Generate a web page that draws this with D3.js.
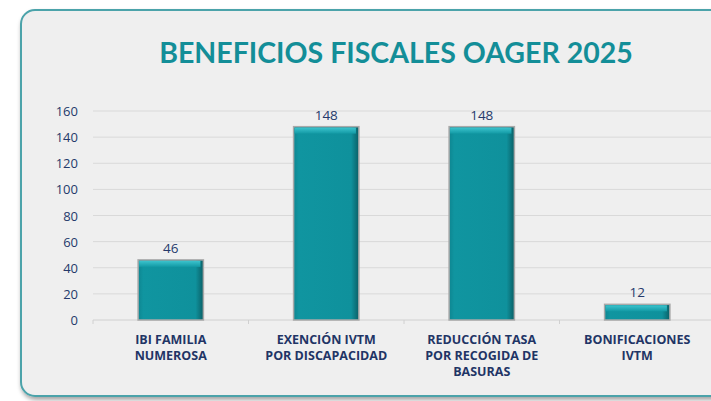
<!DOCTYPE html>
<html>
<head>
<meta charset="utf-8">
<script src="https://cdn.jsdelivr.net/npm/d3@7"></script>
<style>
  body { margin: 0; background: #fff; }
  svg { display: block; }
</style>
</head>
<body>
<svg id="chart" width="711" height="401"></svg>
<script>
const categories = [
  ['IBI FAMILIA', 'NUMEROSA'],
  ['EXENCIÓN IVTM', 'POR DISCAPACIDAD'],
  ['REDUCCIÓN TASA', 'POR RECOGIDA DE', 'BASURAS'],
  ['BONIFICACIONES', 'IVTM']
];
const values = [46, 148, 148, 12];
const yTicks = [0, 20, 40, 60, 80, 100, 120, 140, 160];
const title = 'BENEFICIOS FISCALES OAGER 2025';

const svg = d3.select('#chart');
const defs = svg.append('defs');

// frame shadow
const sh = defs.append('filter').attr('id', 'shadow')
  .attr('x', '-5%').attr('y', '-5%').attr('width', '110%').attr('height', '115%');
sh.append('feDropShadow').attr('dx', 1).attr('dy', 3).attr('stdDeviation', 2)
  .attr('flood-color', '#000').attr('flood-opacity', 0.35);

// bar gradient: darker right edge
const g = defs.append('linearGradient').attr('id', 'barGrad')
  .attr('x1', 0).attr('x2', 1).attr('y1', 0).attr('y2', 0);
g.append('stop').attr('offset', '0%').attr('stop-color', '#0e8691');
g.append('stop').attr('offset', '8%').attr('stop-color', '#1095a0');
g.append('stop').attr('offset', '88%').attr('stop-color', '#0f919c');
g.append('stop').attr('offset', '100%').attr('stop-color', '#0b5f66');

// bevel highlight on top
const t = defs.append('linearGradient').attr('id', 'topGrad')
  .attr('x1', 0).attr('x2', 0).attr('y1', 0).attr('y2', 1);
t.append('stop').attr('offset', '0%').attr('stop-color', '#3cc3cd');
t.append('stop').attr('offset', '100%').attr('stop-color', '#1299a4');

// frame
svg.append('rect')
  .attr('x', 21).attr('y', 10).attr('width', 720).attr('height', 386)
  .attr('rx', 14)
  .attr('fill', '#efefef')
  .attr('stroke', '#4ba3aa').attr('stroke-width', 2)
  .attr('filter', 'url(#shadow)');

svg.append('text')
  .attr('x', 396).attr('y', 63)
  .attr('text-anchor', 'middle')
  .attr('font-family', 'Lato, "Open Sans", sans-serif')
  .attr('font-weight', 'bold')
  .attr('font-size', 28.5)
  .attr('fill', '#138e98')
  .text(title);

const x = d3.scaleBand()
  .domain(d3.range(categories.length))
  .range([93, 715])
  .paddingInner(0.58).paddingOuter(0.29);

const y = d3.scaleLinear().domain([0, 160]).range([320, 111]);

// gridlines
svg.append('g').selectAll('line').data(yTicks.slice(1)).join('line')
  .attr('x1', 93).attr('x2', 711)
  .attr('y1', d => y(d)).attr('y2', d => y(d))
  .attr('stroke', '#d9d9d9').attr('stroke-width', 1);

// y axis labels
svg.append('g').selectAll('text').data(yTicks).join('text')
  .attr('x', 78).attr('y', d => y(d) + 5)
  .attr('text-anchor', 'end')
  .attr('font-family', '"Open Sans", sans-serif')
  .attr('font-size', 13)
  .attr('fill', '#253a6b')
  .text(d => d);

// x axis baseline and ticks
const bandStep = x.step();
svg.append('line')
  .attr('x1', 93).attr('x2', 711).attr('y1', y(0)).attr('y2', y(0))
  .attr('stroke', '#d0d0d0');
svg.append('g').selectAll('line').data(d3.range(categories.length + 1)).join('line')
  .attr('x1', i => 93 + i * bandStep).attr('x2', i => 93 + i * bandStep)
  .attr('y1', y(0)).attr('y2', y(0) + 4)
  .attr('stroke', '#d0d0d0');

// bars
const bars = svg.append('g').selectAll('g').data(values).join('g');
bars.append('rect')
  .attr('x', (d, i) => x(i)).attr('y', d => y(d))
  .attr('width', x.bandwidth()).attr('height', d => y(0) - y(d))
  .attr('fill', 'url(#barGrad)')
  .attr('stroke', '#a9a9a9').attr('stroke-width', 1.5);
bars.append('rect')
  .attr('x', (d, i) => x(i) + 1).attr('y', d => y(d) + 1)
  .attr('width', x.bandwidth() - 4).attr('height', 6)
  .attr('fill', 'url(#topGrad)');

// value labels
svg.append('g').selectAll('text').data(values).join('text')
  .attr('x', (d, i) => x(i) + x.bandwidth() / 2)
  .attr('y', d => y(d) - 7)
  .attr('text-anchor', 'middle')
  .attr('font-family', '"Open Sans", sans-serif')
  .attr('font-size', 13.5)
  .attr('fill', '#253a6b')
  .text(d => d);

// category labels
const cat = svg.append('g').selectAll('text').data(categories).join('text')
  .attr('x', (d, i) => x(i) + x.bandwidth() / 2)
  .attr('y', 344)
  .attr('text-anchor', 'middle')
  .attr('font-family', '"Open Sans", sans-serif')
  .attr('font-weight', 'bold')
  .attr('font-size', 12.5)
  .attr('fill', '#1f3566');
cat.selectAll('tspan').data(d => d).join('tspan')
  .attr('x', function() { return d3.select(this.parentNode).attr('x'); })
  .attr('dy', (d, j) => j === 0 ? 0 : 16)
  .text(d => d);
</script>
</body>
</html>
